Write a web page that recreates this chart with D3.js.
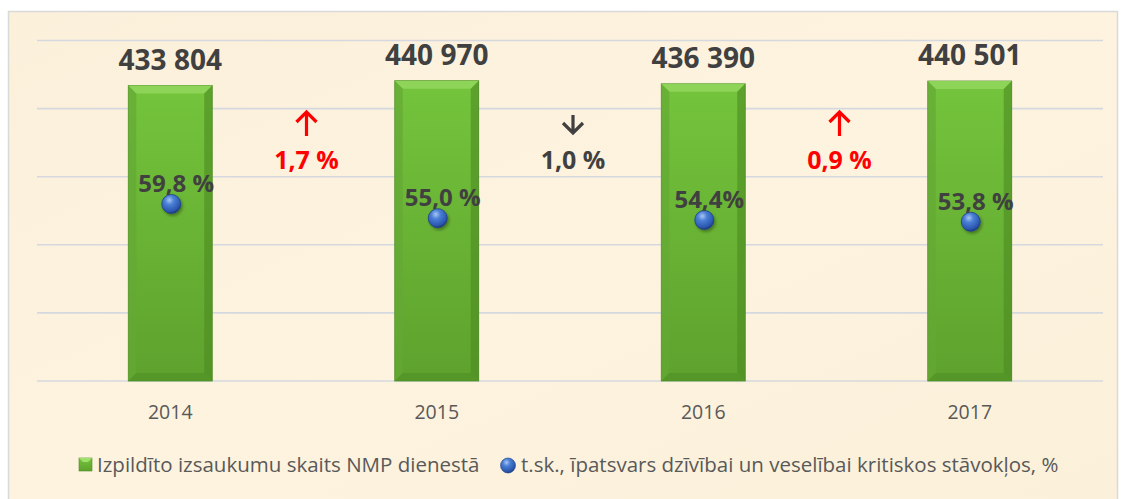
<!DOCTYPE html>
<html>
<head>
<meta charset="utf-8">
<script src="https://cdn.jsdelivr.net/npm/d3@7"></script>
<style>
  body { margin: 0; background: #fff; }
  svg { display: block; font-family: "Open Sans", "Noto Sans", sans-serif; }
</style>
</head>
<body>
<script>
const years = ['2014', '2015', '2016', '2017'];
const calls = [433804, 440970, 436390, 440501];
const critical = [59.8, 55.0, 54.4, 53.8];
const criticalLabels = ['59,8 %', '55,0 %', '54,4%', '53,8 %'];
const changes = [
    ['1,7 %', 'up'],
    ['1,0 %', 'down'],
    ['0,9 %', 'up'],
];
const gridTicks = [0, 100000, 200000, 300000, 400000, 500000];
const legendNames = ['Izpildīto izsaukumu skaits NMP dienestā',
    't.sk., īpatsvars dzīvībai un veselībai kritiskos stāvokļos, %'];

const W = 1126, H = 499;
const plotL = 37, plotR = 1103, plotT = 40.5, plotB = 381;

const svg = d3.select('body').append('svg')
    .attr('width', W).attr('height', H);

const defs = svg.append('defs');

const bg = defs.append('linearGradient').attr('id', 'bg')
    .attr('x1', 0).attr('y1', 0).attr('x2', 1).attr('y2', 1);
bg.append('stop').attr('offset', '0%').attr('stop-color', '#fbf0da');
bg.append('stop').attr('offset', '50%').attr('stop-color', '#fdf3df');
bg.append('stop').attr('offset', '100%').attr('stop-color', '#fbf0d9');

const gBar = defs.append('linearGradient').attr('id', 'barFill')
    .attr('x1', 0).attr('y1', 0).attr('x2', 0).attr('y2', 1);
gBar.append('stop').attr('offset', '0%').attr('stop-color', '#74c43c');
gBar.append('stop').attr('offset', '100%').attr('stop-color', '#5ea22d');

const gDot = defs.append('radialGradient').attr('id', 'dotFill')
    .attr('cx', '40%').attr('cy', '30%').attr('r', '70%');
gDot.append('stop').attr('offset', '0%').attr('stop-color', '#a8c6f2');
gDot.append('stop').attr('offset', '35%').attr('stop-color', '#4a7fd6');
gDot.append('stop').attr('offset', '85%').attr('stop-color', '#2a56ad');
gDot.append('stop').attr('offset', '100%').attr('stop-color', '#1d3b80');

const shadow = defs.append('filter').attr('id', 'shadow')
    .attr('x', '-50%').attr('y', '-50%').attr('width', '200%').attr('height', '200%');
shadow.append('feDropShadow').attr('dx', 1.5).attr('dy', 2).attr('stdDeviation', 1.5)
    .attr('flood-color', '#000').attr('flood-opacity', 0.35);

// frame
svg.append('rect')
    .attr('x', 8.5).attr('y', 11.5).attr('width', 1109).attr('height', 500)
    .attr('fill', 'url(#bg)').attr('stroke', '#d9d9d9').attr('stroke-width', 1.5);

const x = d3.scaleBand().domain(years).range([plotL, plotR]).paddingInner(0.685).paddingOuter(0.3425);
const y = d3.scaleLinear().domain([0, 500000]).range([plotB, plotT]);
const y2 = d3.scaleLinear().domain([0, 115]).range([plotB, plotT]);
const cx = d => x(d) + x.bandwidth() / 2;

// grid
svg.append('g').selectAll('line').data(gridTicks).join('line')
    .attr('x1', plotL).attr('x2', plotR)
    .attr('y1', d => y(d)).attr('y2', d => y(d))
    .attr('stroke', '#d6d8df').attr('stroke-width', 1.6);

// bars with bevel
const bw = x.bandwidth(), bev = 8;
const bars = svg.append('g').selectAll('g').data(years).join('g')
    .attr('transform', (d, i) => `translate(${x(d)},${y(calls[i])})`);
bars.append('rect')
    .attr('width', bw).attr('height', (d, i) => plotB - y(calls[i]))
    .attr('fill', 'url(#barFill)').attr('stroke', '#4f8a26').attr('stroke-width', 0.8);
bars.append('path')
    .attr('d', `M0,0 L${bw},0 L${bw - bev},${bev} L${bev},${bev} Z`)
    .attr('fill', '#90d65c').attr('opacity', 0.9);
bars.append('path')
    .attr('d', (d, i) => { const h = plotB - y(calls[i]); return `M0,0 L${bev},${bev} L${bev},${h - bev} L0,${h} Z`; })
    .attr('fill', '#64a834').attr('opacity', 0.7);
bars.append('path')
    .attr('d', (d, i) => { const h = plotB - y(calls[i]); return `M${bw},0 L${bw - bev},${bev} L${bw - bev},${h - bev} L${bw},${h} Z`; })
    .attr('fill', '#4c8a22').attr('opacity', 0.6);
bars.append('path')
    .attr('d', (d, i) => { const h = plotB - y(calls[i]); return `M0,${h} L${bev},${h - bev} L${bw - bev},${h - bev} L${bw},${h} Z`; })
    .attr('fill', '#4e8f25').attr('opacity', 0.6);

// value labels
const fmt = v => d3.format(',')(v).replace(/,/g, ' ');
svg.append('g').selectAll('text').data(years).join('text')
    .attr('x', d => cx(d)).attr('y', (d, i) => y(calls[i]) - 16)
    .attr('text-anchor', 'middle').attr('font-size', 28).attr('font-weight', 700)
    .attr('fill', '#404040')
    .text((d, i) => fmt(calls[i]));

// dots
svg.append('g').selectAll('circle').data(years).join('circle')
    .attr('cx', d => cx(d) + 1).attr('cy', (d, i) => y2(critical[i]))
    .attr('r', 9.5).attr('fill', 'url(#dotFill)')
    .attr('stroke', '#1f3f86').attr('stroke-width', 0.8)
    .attr('filter', 'url(#shadow)');

svg.append('g').selectAll('text').data(years).join('text')
    .attr('x', d => cx(d) + 6).attr('y', (d, i) => y2(critical[i]) - 12)
    .attr('text-anchor', 'middle').attr('font-size', 24).attr('font-weight', 700)
    .attr('fill', '#404040')
    .text((d, i) => criticalLabels[i]);

// year-on-year change notes, placed between the two bars they compare
const notes = svg.append('g').selectAll('g').data(changes).join('g')
    .attr('transform', (d, i) => `translate(${(cx(years[i]) + cx(years[i + 1])) / 2 + 3},0)`);
notes.append('text')
    .attr('y', 169).attr('text-anchor', 'middle')
    .attr('font-size', 25).attr('font-weight', 700)
    .attr('fill', d => d[1] === 'up' ? '#ff0000' : '#404040')
    .text(d => d[0]);
notes.append('path')
    .attr('d', d => d[1] === 'up'
        ? 'M0,136 L0,112 M-10,122 L0,112 L10,122'
        : 'M0,115 L0,133 M-10,123 L0,133 L10,123')
    .attr('fill', 'none')
    .attr('stroke', d => d[1] === 'up' ? '#ff0000' : '#404040')
    .attr('stroke-width', 3.2);

// x axis labels
svg.append('g').selectAll('text').data(years).join('text')
    .attr('x', d => cx(d)).attr('y', 419)
    .attr('text-anchor', 'middle').attr('font-size', 19.5)
    .attr('fill', '#595959').text(d => d);

// legend
const lg = svg.append('g');
const sq = lg.append('g').attr('transform', 'translate(79,458)');
sq.append('rect').attr('width', 13).attr('height', 13).attr('fill', 'url(#barFill)')
    .attr('stroke', '#4f8a26').attr('stroke-width', 0.6);
sq.append('path').attr('d', 'M0,0 L13,0 L9,4 L4,4 Z').attr('fill', '#9ee06a');
lg.append('text').attr('x', 97).attr('y', 472)
    .attr('font-size', 20.5).attr('fill', '#595959').text(legendNames[0]);
lg.append('circle').attr('cx', 508).attr('cy', 465.5).attr('r', 7.5)
    .attr('fill', 'url(#dotFill)').attr('stroke', '#1f3f86').attr('stroke-width', 0.6);
lg.append('text').attr('x', 521).attr('y', 472)
    .attr('font-size', 20.5).attr('fill', '#595959').text(legendNames[1]);
</script>
</body>
</html>
